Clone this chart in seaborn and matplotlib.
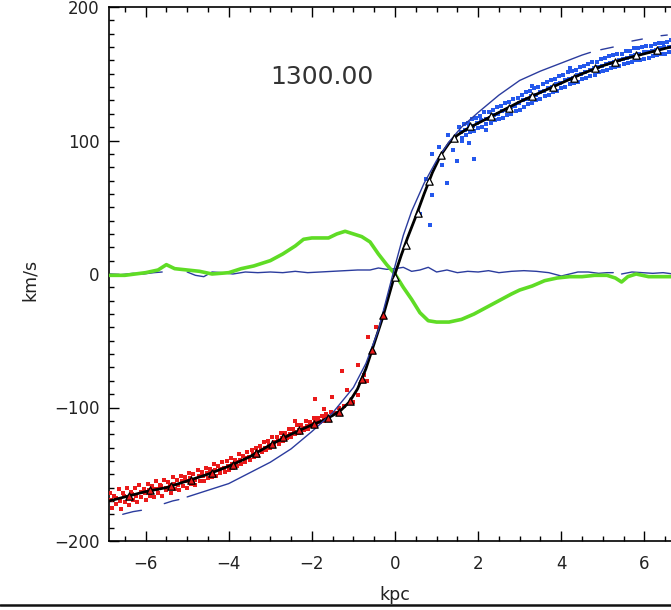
import numpy as np
import pandas as pd
import matplotlib
matplotlib.use("Agg")
import matplotlib.pyplot as plt
import seaborn as sns
from matplotlib.ticker import MultipleLocator
from matplotlib.lines import Line2D

NAN = float('nan')

# ---------------- data ----------------
x_ticks = [-6, -4, -2, 0, 2, 4, 6]
y_ticks = [-200, -100, 0, 100, 200]
title_text = "1300.00"
x_label = "kpc"
y_label = "km/s"

# black rotation curve
black_x = [-6.88, -6.5, -6.0, -5.5, -5.0, -4.5, -4.0, -3.5, -3.0, -2.5, -2.0, -1.75, -1.5, -1.3, -1.1,
           -0.9, -0.7, -0.5, -0.3, -0.1, 0.0, 0.15, 0.3, 0.5, 0.7, 0.9, 1.1, 1.3, 1.5, 1.75, 2.0, 2.5,
           3.0, 3.5, 4.0, 4.5, 5.0, 5.5, 6.0, 6.5, 6.88]
black_y = [-170, -167, -163, -160, -155, -150, -144, -137, -128, -120, -113, -110, -106, -102, -96,
           -86, -71, -52, -33, -11, 0, 14, 27, 43, 60, 76, 89, 98, 104, 109, 113, 121,
           129, 136, 143, 150, 156, 161, 165, 169, 172]

# thin blue model curve (NaN = break)
model_x = [-6.55, -6.3, -6.1, NAN, -5.55, -5.35, -5.2, NAN, -5.0, -4.5, -4.0, -3.5, -3.0, -2.5, -2.0,
           -1.5, -1.0, -0.7, -0.4, -0.2, 0.0, 0.2, 0.4, 0.7, 1.0, 1.3, 1.6, 2.0, 2.5, 3.0, 3.5, 4.0,
           4.5, 4.7, NAN, 4.95, 5.25, NAN, 5.7, 5.95, NAN, 6.4, 6.55]
model_y = [-180, -178, -177, NAN, -172, -170, -169, NAN, -167, -162, -157, -149, -141, -131, -118,
           -104, -85, -67, -42, -18, 6, 29, 47, 68, 85, 99, 110, 121, 134, 145, 152, 158,
           164, 166, NAN, 168, 170, NAN, 174.5, 176, NAN, 178.5, 179]

# thin blue line near zero
flat_x = [-6.88, -6.6, -6.3, -6.05, -5.8, -5.6, NAN, -5.0, -4.8, -4.6, -4.4, -4.15, -3.9, -3.6, -3.3,
          -3.0, -2.7, -2.4, -2.1, -1.8, -1.5, -1.2, -0.9, -0.6, -0.4, -0.2, 0.0, 0.2, 0.4, 0.6, 0.8,
          1.0, 1.25, 1.5, 1.75, 2.0, 2.25, 2.5, 2.8, 3.1, 3.4, 3.7, 4.0, 4.2, 4.4, 4.65, 4.9, 5.1,
          5.25, NAN, 5.45, 5.7, 5.95, 6.2, 6.45, 6.7, 6.88]
flat_y = [0, -0.5, 0.5, 0, 1, 1.5, NAN, 1.5, -1, -2, 1.5, 1, 0, 1.5, 1,
          1.5, 1, 2, 1, 1.5, 2, 2.5, 3, 3, 4.5, 3.5, 4, 5, 2, 3, 5,
          1.5, 3, 1, 2, 1.5, 2.5, 1, 2, 2.5, 2, 1, -1.5, 0, 1.5, 1.5, 0.5, 1,
          1, NAN, 0, 1.5, 1, 0.5, 1, 0, 0]

# green residual curve
green_x = [-6.88, -6.5, -6.0, -5.7, -5.5, -5.3, -5.0, -4.7, -4.4, -4.0, -3.7, -3.4, -3.0, -2.7, -2.4,
           -2.2, -2.0, -1.8, -1.6, -1.4, -1.2, -1.0, -0.8, -0.6, -0.4, -0.2, 0.0, 0.2, 0.4, 0.6, 0.8,
           1.0, 1.3, 1.6, 1.9, 2.2, 2.5, 2.8, 3.0, 3.3, 3.6, 3.9, 4.2, 4.5, 4.8, 5.1, 5.3, 5.45, 5.6,
           5.8, 6.1, 6.4, 6.88]
green_y = [-1, -1, 1, 3, 7, 4, 3, 2, 0, 1, 4, 6, 10, 15, 21,
           26, 27, 27, 27, 30, 32, 30, 28, 24, 15, 7, 0, -10, -19, -29, -35,
           -36, -36, -34, -30, -25, -20, -15, -12, -9, -5, -3, -2, -2, -1, -1, -3, -6, -2,
           0, -2, -2, -2]

# red (approaching side) points
red_up_x = [-6.85, -6.75, -6.65, -6.55, -6.45, -6.35, -6.25, -6.15, -6.05, -5.95,
            -5.85, -5.75, -5.65, -5.55, -5.45, -5.35, -5.25, -5.15, -5.05, -4.95,
            -4.85, -4.75, -4.65, -4.55, -4.45, -4.35, -4.25, -4.15, -4.05, -3.95,
            -3.85, -3.75, -3.65, -3.55, -3.45, -3.35, -3.25, -3.15, -3.05, -2.95,
            -2.85, -2.75, -2.65, -2.55, -2.45, -2.35, -2.25, -2.15, -2.05, -1.95,
            -1.85, -1.75, -1.65, -1.55]
red_up_y = [-164, -166, -161, -164, -160, -163, -160, -158, -161, -157,
            -159, -155, -158, -154, -156, -152, -154, -151, -152, -149,
            -150, -147, -148, -145, -146, -142, -144, -141, -140, -138,
            -139, -135, -136, -133, -132, -130, -129, -126, -125, -122,
            -122, -119, -119, -116, -116, -113, -113, -110, -111, -108,
            -108, -106, -105, -103]
red_lo_x = [-6.80, -6.70, -6.60, -6.50, -6.40, -6.30, -6.20, -6.10, -6.00, -5.90,
            -5.80, -5.70, -5.60, -5.50, -5.40, -5.30, -5.20, -5.10, -5.00, -4.90,
            -4.80, -4.70, -4.60, -4.50, -4.40, -4.30, -4.20, -4.10, -4.00, -3.90,
            -3.80, -3.70, -3.60, -3.50, -3.40, -3.30, -3.20, -3.10, -3.00, -2.90,
            -2.80, -2.70, -2.60, -2.50, -2.40, -2.30, -2.20, -2.10, -2.00, -1.90,
            -1.80, -1.70, -1.60]
red_lo_y = [-175, -172, -176, -171, -173, -169, -171, -167, -169, -166,
            -167, -164, -166, -162, -164, -161, -162, -159, -160, -157,
            -158, -155, -155, -153, -152, -151, -149, -148, -147, -145,
            -144, -142, -141, -139, -137, -136, -133, -132, -130, -128,
            -127, -125, -123, -122, -120, -119, -117, -116, -114, -113,
            -111, -110, -108]
red_mid_x = [-6.82, -6.72, -6.62, -6.52, -6.42, -6.32, -6.22, -6.12, -6.02, -5.92,
             -5.82, -5.72, -5.62, -5.52, -5.42, -5.32, -5.22, -5.12, -5.02, -4.92,
             -4.82, -4.72, -4.62, -4.52, -4.42, -4.32, -4.22, -4.12, -4.02, -3.92,
             -3.82, -3.72, -3.62, -3.52, -3.42, -3.32, -3.22, -3.12, -3.02, -2.92,
             -2.82, -2.72, -2.62, -2.52, -2.42, -2.32, -2.22, -2.12, -2.02, -1.92,
             -1.82, -1.72]
red_mid_y = [-169, -168, -170, -166, -167, -165, -166, -163, -164, -162,
             -161, -161, -159, -160, -158, -157, -158, -155, -155, -153,
             -154, -151, -151, -149, -149, -147, -146, -145, -144, -142,
             -141, -139, -138, -137, -135, -133, -132, -130, -128, -126,
             -125, -123, -121, -120, -118, -117, -115, -114, -112, -111,
             -110, -108]
red_out_x = [-1.45, -1.35, -1.28, -1.16, -1.52, -1.92, -0.89, -0.67, -0.64, -0.88, -1.02, -1.22,
             -0.75, -0.45, -1.7, -2.4]
red_out_y = [-104, -100, -73, -87, -92, -94, -68, -80, -47, -91, -96, -99,
             -76, -40, -101, -110]

# blue (receding side) points
blue_up_x = [1.55, 1.65, 1.75, 1.85, 1.95, 2.05, 2.15, 2.25, 2.35, 2.45,
             2.55, 2.65, 2.75, 2.85, 2.95, 3.05, 3.15, 3.25, 3.35, 3.45,
             3.55, 3.65, 3.75, 3.85, 3.95, 4.05, 4.15, 4.25, 4.35, 4.45,
             4.55, 4.65, 4.75, 4.85, 4.95, 5.05, 5.15, 5.25, 5.35, 5.45,
             5.55, 5.65, 5.75, 5.85, 5.95, 6.05, 6.15, 6.25, 6.35, 6.45,
             6.55, 6.65, 6.75, 6.85]
blue_up_y = [110, 112, 113, 116, 117, 118, 121, 121, 123, 125,
             126, 128, 129, 131, 132, 134, 136, 137, 139, 140,
             142, 144, 145, 146, 148, 149, 151, 152, 153, 155,
             156, 157, 159, 159, 161, 162, 163, 164, 165, 165,
             167, 167, 169, 169, 170, 171, 171, 172, 173, 173,
             174, 175, 175, 176]
blue_lo_x = [1.60, 1.70, 1.80, 1.90, 2.00, 2.10, 2.20, 2.30, 2.40, 2.50,
             2.60, 2.70, 2.80, 2.90, 3.00, 3.10, 3.20, 3.30, 3.40, 3.50,
             3.60, 3.70, 3.80, 3.90, 4.00, 4.10, 4.20, 4.30, 4.40, 4.50,
             4.60, 4.70, 4.80, 4.90, 5.00, 5.10, 5.20, 5.30, 5.40, 5.50,
             5.60, 5.70, 5.80, 5.90, 6.00, 6.10, 6.20, 6.30, 6.40, 6.50,
             6.60, 6.70, 6.80]
blue_lo_y = [102, 104, 106, 107, 109, 110, 112, 113, 115, 116,
             117, 119, 120, 122, 123, 125, 127, 128, 130, 131,
             133, 134, 136, 137, 139, 140, 142, 143, 144, 146,
             147, 148, 149, 151, 152, 153, 154, 155, 156, 157,
             158, 159, 160, 160, 161, 162, 163, 164, 165, 165,
             166, 167, 168]
blue_mid_x = [1.58, 1.68, 1.78, 1.88, 1.98, 2.08, 2.18, 2.28, 2.38, 2.48,
              2.58, 2.68, 2.78, 2.88, 2.98, 3.08, 3.18, 3.28, 3.38, 3.48,
              3.58, 3.68, 3.78, 3.88, 3.98, 4.08, 4.18, 4.28, 4.38, 4.48,
              4.58, 4.68, 4.78, 4.88, 4.98, 5.08, 5.18, 5.28, 5.38, 5.48,
              5.58, 5.68, 5.78, 5.88, 5.98, 6.08, 6.18, 6.28, 6.38, 6.48,
              6.58, 6.68, 6.78]
blue_mid_y = [106, 108, 110, 111, 113, 115, 116, 117, 119, 120,
              122, 123, 125, 126, 128, 130, 131, 133, 134, 136,
              137, 139, 140, 142, 143, 145, 146, 147, 149, 150,
              151, 153, 154, 155, 156, 157, 158, 159, 160, 161,
              162, 163, 164, 165, 166, 166, 167, 168, 169, 170,
              170, 171, 172]
blue_out_x = [0.89, 1.13, 1.49, 1.89, 1.25, 0.89, 0.85, 1.4, 1.77, 1.28, 0.75, 1.05, 1.6, 2.2,
              4.2, 3.3, 0.6]
blue_out_y = [90, 82, 85, 86, 68, 59, 37, 93, 98, 104, 71, 95, 100, 108,
              154, 141, 45]

# triangles on the curve
triL_x = [-6.4, -5.9, -5.4, -4.9, -4.4, -3.9, -3.35, -2.95, -2.7, -2.3, -1.95, -1.6, -1.35,
          -1.08, -0.8, -0.56, -0.28]
triL_y = [-166, -162, -159, -154, -149, -143, -134, -127, -122, -117, -112, -108, -103,
          -95, -79, -57, -31]
triR_x = [0.0, 0.27, 0.55, 0.82, 1.1, 1.42, 1.8, 2.3, 2.75, 3.3, 3.8, 4.3, 4.8, 5.3, 5.8,
          6.3, 6.75]
triR_y = [-2, 22, 46, 70, 89, 102, 111, 118, 124, 133, 140, 147, 154, 159, 164,
          168, 171]

# ---------------- plotting ----------------
sns.set_theme(style="ticks")
plt.rcParams['font.family'] = ['DejaVu Sans']

W, H = 671, 610
fig = plt.figure(figsize=(W / 100, H / 100), dpi=100)
fig.patch.set_facecolor("white")
ax = fig.add_axes([109 / W, (H - 541) / H, 572 / W, (541 - 7) / H])
ax.set_facecolor("white")


def segments(xs, ys):
    rows, seg = [], 0
    for xv, yv in zip(xs, ys):
        if np.isnan(yv):
            seg += 1
            continue
        rows.append((xv, yv, seg))
    return pd.DataFrame(rows, columns=["x", "y", "seg"])


NAVY = "#2b3c9e"
RED = "#ea1a1a"
BLUE = "#2458ec"
GREEN = "#5fdc25"

sns.lineplot(data=segments(flat_x, flat_y), x="x", y="y", units="seg", estimator=None,
             sort=False, color=NAVY, lw=1.0, ax=ax, zorder=2)
sns.lineplot(x=green_x, y=green_y, sort=False, color=GREEN, lw=2.6, ax=ax, zorder=3)

for xs, ys in [(red_up_x, red_up_y), (red_lo_x, red_lo_y), (red_mid_x, red_mid_y),
               (red_out_x, red_out_y)]:
    sns.scatterplot(x=xs, y=ys, marker="s", s=12, color=RED, linewidth=0, ax=ax, zorder=3)
for xs, ys in [(blue_up_x, blue_up_y), (blue_lo_x, blue_lo_y), (blue_mid_x, blue_mid_y),
               (blue_out_x, blue_out_y)]:
    sns.scatterplot(x=xs, y=ys, marker="s", s=12, color=BLUE, linewidth=0, ax=ax, zorder=3)

sns.lineplot(x=black_x, y=black_y, sort=False, color="black", lw=2.0, ax=ax, zorder=4)
sns.lineplot(data=segments(model_x, model_y), x="x", y="y", units="seg", estimator=None,
             sort=False, color=NAVY, lw=1.0, ax=ax, zorder=5)

sns.scatterplot(x=triL_x, y=triL_y, marker="^", s=28, color=RED, edgecolor="black",
                linewidth=0.9, ax=ax, zorder=6)
sns.scatterplot(x=triR_x, y=triR_y, marker="^", s=28, color="white", edgecolor="black",
                linewidth=0.9, ax=ax, zorder=6)

ax.set_xlim(-6.88, 6.88)
ax.set_ylim(-200, 200)
ax.set_xticks(x_ticks)
ax.set_yticks(y_ticks)
ax.xaxis.set_minor_locator(MultipleLocator(0.5))
ax.yaxis.set_minor_locator(MultipleLocator(10))
ax.set_xticklabels([f"{v}".replace("-", "\u2212") for v in x_ticks])
ax.set_yticklabels([f"{v}".replace("-", "\u2212") for v in y_ticks])
ax.tick_params(which="both", direction="in", top=True, right=True, colors="black",
               labelcolor="#222222", labelsize=12, width=1.0)
ax.tick_params(which="major", length=7)
ax.tick_params(which="minor", length=3.5)
ax.tick_params(axis="x", pad=10)
ax.tick_params(axis="y", pad=7)
for sp in ax.spines.values():
    sp.set_visible(True)
    sp.set_color("black")
    sp.set_linewidth(1.2)
ax.set_xlabel("")
ax.set_ylabel("")
ax.grid(False)

fig.text(30 / W, 1 - 280 / H, y_label, rotation=90, ha="center", va="center",
         fontsize=12.5, color="#222222")
fig.text(395 / W, 1 - 595 / H, x_label, ha="center", va="center", fontsize=12.5,
         color="#222222")
fig.text(322 / W, 1 - 77 / H, title_text, ha="center", va="center", fontsize=18,
         color="#333333")
fig.add_artist(Line2D([0, 1], [1 - 605 / H, 1 - 605 / H], transform=fig.transFigure,
                      color="#111111", lw=1.8))

fig.savefig("out.png", dpi=100, facecolor="white")
